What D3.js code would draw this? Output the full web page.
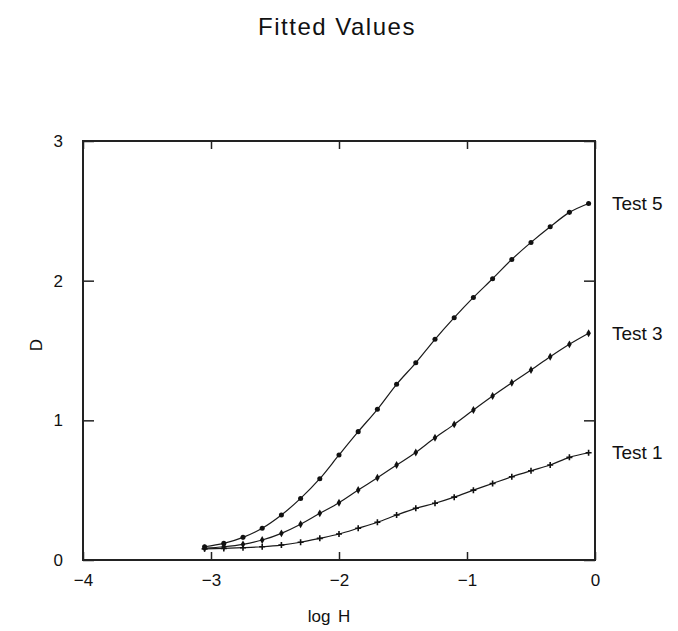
<!DOCTYPE html>
<html>
<head>
<meta charset="utf-8">
<style>
body { margin: 0; background: #fff; }
text { fill: #111; font-family: "Liberation Sans", Arial, sans-serif; }
.curve { fill: none; stroke: #1a1a1a; stroke-width: 1.2px; }
.frame { fill: none; stroke: #222; stroke-width: 2px; }
</style>
<title></title></head>
<body>
<script src="https://cdn.jsdelivr.net/npm/d3@7"></script>
<script>

// log H positions of the fitted points
var logH = [-3.05, -2.9, -2.75, -2.6, -2.45, -2.3, -2.15, -2.0, -1.85, -1.7, -1.55,
            -1.4, -1.25, -1.1, -0.95, -0.8, -0.65, -0.5, -0.35, -0.2, -0.05];

var test5 = [0.095, 0.119, 0.162, 0.227, 0.322, 0.441, 0.582, 0.752, 0.919, 1.079, 1.258,
             1.412, 1.580, 1.735, 1.880, 2.014, 2.152, 2.274, 2.386, 2.489, 2.553];
var test3 = [0.085, 0.095, 0.112, 0.143, 0.191, 0.256, 0.334, 0.410, 0.501, 0.589, 0.680,
             0.770, 0.875, 0.971, 1.074, 1.174, 1.269, 1.360, 1.455, 1.544, 1.623];
var test1 = [0.080, 0.083, 0.088, 0.095, 0.107, 0.127, 0.155, 0.186, 0.227, 0.270, 0.322,
             0.370, 0.406, 0.450, 0.500, 0.548, 0.596, 0.639, 0.680, 0.735, 0.768];

var seriesNames = ["Test 5", "Test 3", "Test 1"];
var seriesValues = [test5, test3, test1];

var xTicks = [-4, -3, -2, -1, 0];
var yTicks = [0, 1, 2, 3];

var width = 678, height = 631;
var plotL = 83, plotR = 595, plotT = 141, plotB = 560;

var svg = d3.select("body").append("svg")
    .attr("width", width)
    .attr("height", height);

var x = d3.scaleLinear().domain([-4, 0]).range([plotL, plotR]);
var y = d3.scaleLinear().domain([0, 3]).range([plotB, plotT]);

// axes, ticks pointing inward
var xb = svg.append("g")
    .attr("transform", "translate(0," + plotB + ")")
    .call(d3.axisBottom(x).tickValues(xTicks).tickSize(-8).tickSizeOuter(0)
      .tickPadding(14).tickFormat(d3.format("d")));
var xt = svg.append("g")
    .attr("transform", "translate(0," + plotT + ")")
    .call(d3.axisTop(x).tickValues(xTicks).tickSize(-8).tickSizeOuter(0).tickFormat(""));
var yl = svg.append("g")
    .attr("transform", "translate(" + plotL + ",0)")
    .call(d3.axisLeft(y).tickValues(yTicks).tickSize(-11).tickSizeOuter(0)
      .tickPadding(20).tickFormat(d3.format("d")));
var yr = svg.append("g")
    .attr("transform", "translate(" + plotR + ",0)")
    .call(d3.axisRight(y).tickValues(yTicks).tickSize(-11).tickSizeOuter(0).tickFormat(""));

[xb, xt, yl, yr].forEach(function(g) {
  g.select(".domain").remove();
  g.selectAll("line").attr("stroke", "#222").attr("stroke-width", 1.5);
  g.selectAll("text").attr("fill", "#111")
    .style("font-family", "Liberation Sans, Arial, sans-serif")
    .style("font-size", "17px");
});

svg.append("rect")
    .attr("class", "frame")
    .attr("x", plotL).attr("y", plotT)
    .attr("width", plotR - plotL).attr("height", plotB - plotT);

var line = d3.line()
    .x(function(d) { return x(d[0]); })
    .y(function(d) { return y(d[1]); })
    .curve(d3.curveMonotoneX);

seriesValues.forEach(function(vals, k) {
  var pts = logH.map(function(h, i) { return [h, vals[i]]; });

  svg.append("path")
      .attr("class", "curve")
      .attr("d", line(pts));

  var g = svg.append("g");
  if (k < 2) {
    g.selectAll("path.pt")
      .data(pts)
      .enter().append("path")
      .attr("class", "pt")
      .attr("transform", function(d) { return "translate(" + x(d[0]) + "," + y(d[1]) + ")"; })
      .attr("d", d3.symbol().type(k == 0 ? d3.symbolCircle : d3.symbolDiamond).size(k == 0 ? 20 : 18))
      .attr("fill", "#111");
  } else {
    g.selectAll("path.pt")
      .data(pts)
      .enter().append("path")
      .attr("class", "pt")
      .attr("transform", function(d) { return "translate(" + x(d[0]) + "," + y(d[1]) + ")"; })
      .attr("d", "M-3,0H3M0,-3V3")
      .attr("stroke", "#111")
      .attr("stroke-width", 1.6);
  }

  svg.append("text")
      .attr("x", 612)
      .attr("y", y(vals[vals.length - 1]))
      .attr("dy", "0.35em")
      .style("font-size", "19px")
      .text(seriesNames[k]);
});

// titles
svg.append("text")
    .attr("x", 337)
    .attr("y", 35)
    .attr("text-anchor", "middle")
    .style("font-size", "24px")
    .style("letter-spacing", "1.5px")
    .text("Fitted Values");

svg.append("text")
    .attr("x", 329)
    .attr("y", 622)
    .attr("text-anchor", "middle")
    .style("font-size", "17px")
    .style("word-spacing", "3px")
    .text("log H");

svg.append("text")
    .attr("transform", "translate(42,345) rotate(-90)")
    .attr("text-anchor", "middle")
    .style("font-size", "17px")
    .text("D");

</script>
</body>
</html>
